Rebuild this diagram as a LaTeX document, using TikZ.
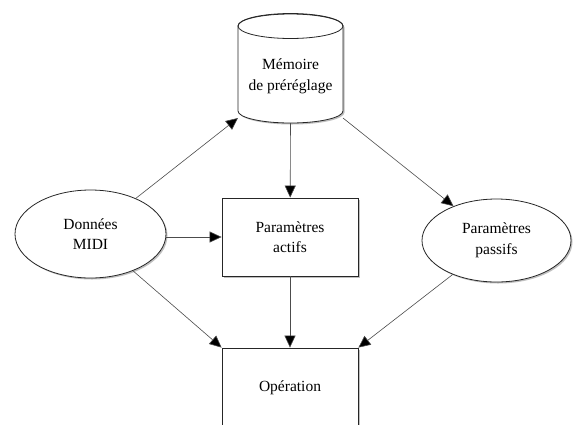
\documentclass[tikz,border=0pt]{standalone}
\usepackage{fontspec}
\setmainfont{Liberation Serif}
\usetikzlibrary{arrows.meta,shapes.geometric,shadows}
\begin{document}
\begin{tikzpicture}[x=1pt,y=-1pt,
  every node/.style={font=\fontsize{15.5}{20.5}\selectfont, align=center},
  shp/.style={draw=black!85, line width=0.8pt, fill=white,
    drop shadow={shadow xshift=1.5pt, shadow yshift=-1.5pt, fill=black!25, opacity=1}},
  boxnode/.style={shp, rectangle, minimum width=136pt, minimum height=78pt},
  ellnode/.style={shp, ellipse, inner sep=0pt},
  arr/.style={draw=black!70, line width=0.6pt, -{Triangle[length=12pt,width=11pt,fill=black]}}
]
\clip (0,0) rectangle (575,424);
\fill[white] (0,0) rectangle (575,424);
% cylinder
\path[shp] (238,26) -- (238,111) arc[start angle=180, end angle=360, x radius=52.5pt, y radius=12pt] -- (343,26) arc[start angle=0, end angle=180, x radius=52.5pt, y radius=12pt] -- cycle;
\draw[black!85, line width=0.8pt] (290.5,26) ellipse[x radius=52.5pt, y radius=12.5pt];
\node (mem) at (290.5,76.5) {Mémoire\\de préréglage};
\coordinate (memSW) at (238,118);
\coordinate (memSE) at (343,118);
\coordinate (memS) at (290.5,123);
% nodes
\node[ellnode, minimum width=151pt, minimum height=88pt] (midi) at (90.5,234) {Données\\MIDI};
\node[ellnode, minimum width=149pt, minimum height=83pt] (passifs) at (496.5,240.5) {Paramètres\\passifs};
\node[boxnode] (actifs) at (290,237) {Paramètres\\actifs};
\node[boxnode, minimum height=80pt] (oper) at (290,388) {Opération};
% connectors
\draw[arr] (midi) -- (memSW);
\draw[arr] (midi.east |- actifs.west) -- (actifs.west);
\draw[arr] (midi) -- (oper.north west);
\draw[arr] (memS) -- (actifs);
\draw[arr] (memSE) -- (passifs);
\draw[arr] (actifs) -- (oper);
\draw[arr] (passifs) -- (oper.north east);
\end{tikzpicture}
\end{document}
